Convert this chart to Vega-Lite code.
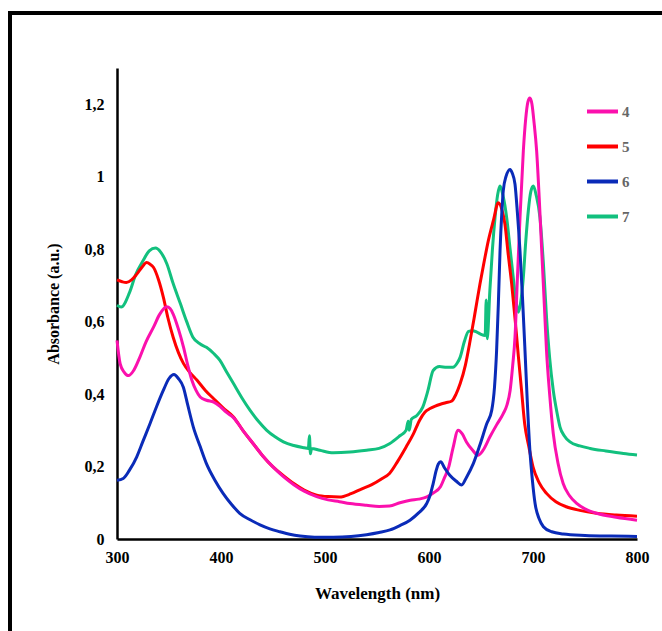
{
"$schema":"https://vega.github.io/schema/vega-lite/v6.json",
"width":660,"height":640,
"autosize":{"type":"none"},
"padding":{"left":10,"top":13,"right":0,"bottom":0},
"background":"white",
"config":{"view":{"stroke":"black","strokeWidth":4},"font":"Liberation Serif"},
"data":{"values":[
{"s":"7","w":300,"a":0.645},{"s":"7","w":304,"a":0.64},{"s":"7","w":312,"a":0.68},{"s":"7","w":318,"a":0.73},{"s":"7","w":325,"a":0.768},{"s":"7","w":331,"a":0.795},{"s":"7","w":337,"a":0.803},{"s":"7","w":342,"a":0.792},{"s":"7","w":348,"a":0.759},{"s":"7","w":354,"a":0.705},{"s":"7","w":361,"a":0.649},{"s":"7","w":367,"a":0.6},{"s":"7","w":373,"a":0.557},{"s":"7","w":380,"a":0.538},{"s":"7","w":386,"a":0.529},{"s":"7","w":393,"a":0.512},{"s":"7","w":399,"a":0.493},{"s":"7","w":405,"a":0.463},{"s":"7","w":412,"a":0.429},{"s":"7","w":420,"a":0.39},{"s":"7","w":428,"a":0.355},{"s":"7","w":436,"a":0.325},{"s":"7","w":444,"a":0.3},{"s":"7","w":452,"a":0.282},{"s":"7","w":460,"a":0.268},{"s":"7","w":470,"a":0.258},{"s":"7","w":480,"a":0.252},{"s":"7","w":484,"a":0.25},{"s":"7","w":485,"a":0.285},{"s":"7","w":486,"a":0.235},{"s":"7","w":487,"a":0.25},{"s":"7","w":495,"a":0.245},{"s":"7","w":508,"a":0.238},{"s":"7","w":524,"a":0.24},{"s":"7","w":540,"a":0.245},{"s":"7","w":552,"a":0.25},{"s":"7","w":562,"a":0.263},{"s":"7","w":572,"a":0.285},{"s":"7","w":578,"a":0.3},{"s":"7","w":580,"a":0.325},{"s":"7","w":581,"a":0.3},{"s":"7","w":583,"a":0.33},{"s":"7","w":588,"a":0.34},{"s":"7","w":594,"a":0.364},{"s":"7","w":599,"a":0.41},{"s":"7","w":604,"a":0.465},{"s":"7","w":610,"a":0.476},{"s":"7","w":617,"a":0.474},{"s":"7","w":623,"a":0.474},{"s":"7","w":627,"a":0.485},{"s":"7","w":630,"a":0.502},{"s":"7","w":634,"a":0.545},{"s":"7","w":638,"a":0.573},{"s":"7","w":642,"a":0.575},{"s":"7","w":646,"a":0.571},{"s":"7","w":650,"a":0.565},{"s":"7","w":654,"a":0.562},{"s":"7","w":655,"a":0.66},{"s":"7","w":656,"a":0.553},{"s":"7","w":658.5,"a":0.685},{"s":"7","w":661,"a":0.8},{"s":"7","w":663.5,"a":0.887},{"s":"7","w":666,"a":0.95},{"s":"7","w":668.3,"a":0.974},{"s":"7","w":671,"a":0.95},{"s":"7","w":674.7,"a":0.887},{"s":"7","w":678,"a":0.8},{"s":"7","w":681,"a":0.722},{"s":"7","w":684,"a":0.65},{"s":"7","w":686,"a":0.626},{"s":"7","w":688,"a":0.65},{"s":"7","w":690.7,"a":0.722},{"s":"7","w":693,"a":0.82},{"s":"7","w":695.5,"a":0.906},{"s":"7","w":698,"a":0.96},{"s":"7","w":700.3,"a":0.974},{"s":"7","w":703,"a":0.95},{"s":"7","w":706.7,"a":0.887},{"s":"7","w":710,"a":0.76},{"s":"7","w":713,"a":0.612},{"s":"7","w":716,"a":0.5},{"s":"7","w":719.5,"a":0.41},{"s":"7","w":723,"a":0.35},{"s":"7","w":726,"a":0.309},{"s":"7","w":730,"a":0.285},{"s":"7","w":735.6,"a":0.268},{"s":"7","w":745,"a":0.257},{"s":"7","w":755,"a":0.25},{"s":"7","w":770,"a":0.243},{"s":"7","w":787,"a":0.236},{"s":"7","w":800,"a":0.232},

{"s":"5","w":300,"a":0.715},{"s":"5","w":305,"a":0.71},{"s":"5","w":309,"a":0.708},{"s":"5","w":314,"a":0.715},{"s":"5","w":319,"a":0.731},{"s":"5","w":324,"a":0.75},{"s":"5","w":328.5,"a":0.763},{"s":"5","w":332,"a":0.758},{"s":"5","w":335,"a":0.75},{"s":"5","w":340,"a":0.715},{"s":"5","w":344.6,"a":0.667},{"s":"5","w":349,"a":0.61},{"s":"5","w":354,"a":0.557},{"s":"5","w":359,"a":0.515},{"s":"5","w":364,"a":0.484},{"s":"5","w":370,"a":0.46},{"s":"5","w":377,"a":0.438},{"s":"5","w":385,"a":0.41},{"s":"5","w":393,"a":0.387},{"s":"5","w":402,"a":0.362},{"s":"5","w":412,"a":0.337},{"s":"5","w":421,"a":0.3},{"s":"5","w":431,"a":0.263},{"s":"5","w":440,"a":0.23},{"s":"5","w":450,"a":0.199},{"s":"5","w":460,"a":0.175},{"s":"5","w":470,"a":0.153},{"s":"5","w":480,"a":0.135},{"s":"5","w":492,"a":0.121},{"s":"5","w":503,"a":0.117},{"s":"5","w":514,"a":0.116},{"s":"5","w":525,"a":0.125},{"s":"5","w":535,"a":0.138},{"s":"5","w":545,"a":0.15},{"s":"5","w":555,"a":0.167},{"s":"5","w":562,"a":0.181},{"s":"5","w":570,"a":0.215},{"s":"5","w":578,"a":0.254},{"s":"5","w":585,"a":0.29},{"s":"5","w":591,"a":0.328},{"s":"5","w":596,"a":0.35},{"s":"5","w":601,"a":0.36},{"s":"5","w":606,"a":0.367},{"s":"5","w":611,"a":0.372},{"s":"5","w":616,"a":0.376},{"s":"5","w":622,"a":0.381},{"s":"5","w":626,"a":0.4},{"s":"5","w":630,"a":0.429},{"s":"5","w":635,"a":0.48},{"s":"5","w":639,"a":0.539},{"s":"5","w":644,"a":0.62},{"s":"5","w":649,"a":0.704},{"s":"5","w":653,"a":0.765},{"s":"5","w":657,"a":0.823},{"s":"5","w":662,"a":0.88},{"s":"5","w":666.6,"a":0.928},{"s":"5","w":670,"a":0.91},{"s":"5","w":673,"a":0.869},{"s":"5","w":676,"a":0.79},{"s":"5","w":679.5,"a":0.704},{"s":"5","w":683,"a":0.6},{"s":"5","w":686,"a":0.502},{"s":"5","w":689,"a":0.41},{"s":"5","w":692,"a":0.318},{"s":"5","w":696,"a":0.255},{"s":"5","w":700,"a":0.199},{"s":"5","w":706,"a":0.155},{"s":"5","w":713,"a":0.126},{"s":"5","w":722,"a":0.103},{"s":"5","w":732,"a":0.089},{"s":"5","w":745,"a":0.079},{"s":"5","w":761,"a":0.071},{"s":"5","w":780,"a":0.066},{"s":"5","w":800,"a":0.063},

{"s":"4","w":300,"a":0.548},{"s":"4","w":303,"a":0.484},{"s":"4","w":307,"a":0.46},{"s":"4","w":311,"a":0.451},{"s":"4","w":316,"a":0.465},{"s":"4","w":322,"a":0.502},{"s":"4","w":328,"a":0.545},{"s":"4","w":335,"a":0.584},{"s":"4","w":341,"a":0.62},{"s":"4","w":347.8,"a":0.641},{"s":"4","w":351,"a":0.636},{"s":"4","w":354,"a":0.621},{"s":"4","w":359,"a":0.58},{"s":"4","w":364,"a":0.529},{"s":"4","w":368,"a":0.48},{"s":"4","w":372,"a":0.438},{"s":"4","w":376,"a":0.41},{"s":"4","w":380,"a":0.392},{"s":"4","w":386,"a":0.383},{"s":"4","w":393,"a":0.378},{"s":"4","w":399,"a":0.366},{"s":"4","w":405,"a":0.35},{"s":"4","w":412,"a":0.335},{"s":"4","w":421,"a":0.3},{"s":"4","w":431,"a":0.263},{"s":"4","w":440,"a":0.23},{"s":"4","w":450,"a":0.199},{"s":"4","w":460,"a":0.172},{"s":"4","w":470,"a":0.15},{"s":"4","w":480,"a":0.132},{"s":"4","w":492,"a":0.117},{"s":"4","w":503,"a":0.108},{"s":"4","w":514,"a":0.103},{"s":"4","w":524,"a":0.098},{"s":"4","w":540,"a":0.093},{"s":"4","w":552,"a":0.09},{"s":"4","w":562,"a":0.091},{"s":"4","w":572,"a":0.1},{"s":"4","w":582,"a":0.107},{"s":"4","w":590,"a":0.11},{"s":"4","w":598,"a":0.116},{"s":"4","w":604,"a":0.127},{"s":"4","w":611,"a":0.144},{"s":"4","w":615,"a":0.17},{"s":"4","w":619,"a":0.199},{"s":"4","w":623,"a":0.25},{"s":"4","w":628,"a":0.3},{"s":"4","w":632,"a":0.29},{"s":"4","w":636,"a":0.268},{"s":"4","w":642,"a":0.245},{"s":"4","w":647,"a":0.231},{"s":"4","w":652,"a":0.245},{"s":"4","w":658.6,"a":0.282},{"s":"4","w":665,"a":0.315},{"s":"4","w":671.4,"a":0.346},{"s":"4","w":675,"a":0.37},{"s":"4","w":678,"a":0.41},{"s":"4","w":680.5,"a":0.48},{"s":"4","w":682.7,"a":0.557},{"s":"4","w":685,"a":0.72},{"s":"4","w":687.5,"a":0.887},{"s":"4","w":690.7,"a":1.071},{"s":"4","w":693,"a":1.16},{"s":"4","w":695,"a":1.205},{"s":"4","w":697,"a":1.217},{"s":"4","w":699,"a":1.2},{"s":"4","w":701,"a":1.15},{"s":"4","w":703.5,"a":1.071},{"s":"4","w":706,"a":0.94},{"s":"4","w":708.4,"a":0.795},{"s":"4","w":711,"a":0.64},{"s":"4","w":713,"a":0.52},{"s":"4","w":716,"a":0.4},{"s":"4","w":719.5,"a":0.291},{"s":"4","w":724,"a":0.21},{"s":"4","w":729,"a":0.153},{"s":"4","w":735,"a":0.12},{"s":"4","w":742,"a":0.098},{"s":"4","w":750,"a":0.083},{"s":"4","w":761,"a":0.071},{"s":"4","w":780,"a":0.06},{"s":"4","w":800,"a":0.052},

{"s":"6","w":300,"a":0.162},{"s":"6","w":306,"a":0.167},{"s":"6","w":312,"a":0.19},{"s":"6","w":319,"a":0.227},{"s":"6","w":325,"a":0.27},{"s":"6","w":331.7,"a":0.318},{"s":"6","w":338,"a":0.365},{"s":"6","w":344.5,"a":0.41},{"s":"6","w":350,"a":0.443},{"s":"6","w":354.8,"a":0.454},{"s":"6","w":359,"a":0.443},{"s":"6","w":363.8,"a":0.419},{"s":"6","w":368,"a":0.37},{"s":"6","w":373.4,"a":0.309},{"s":"6","w":380,"a":0.255},{"s":"6","w":386,"a":0.208},{"s":"6","w":394,"a":0.163},{"s":"6","w":402,"a":0.126},{"s":"6","w":410,"a":0.096},{"s":"6","w":418,"a":0.071},{"s":"6","w":428,"a":0.053},{"s":"6","w":437.5,"a":0.039},{"s":"6","w":447,"a":0.028},{"s":"6","w":456.7,"a":0.02},{"s":"6","w":466,"a":0.013},{"s":"6","w":476,"a":0.008},{"s":"6","w":490,"a":0.005},{"s":"6","w":508,"a":0.005},{"s":"6","w":525,"a":0.007},{"s":"6","w":540,"a":0.012},{"s":"6","w":552,"a":0.018},{"s":"6","w":562.5,"a":0.025},{"s":"6","w":572,"a":0.037},{"s":"6","w":581.7,"a":0.052},{"s":"6","w":590,"a":0.072},{"s":"6","w":597.8,"a":0.098},{"s":"6","w":601,"a":0.12},{"s":"6","w":604,"a":0.153},{"s":"6","w":607,"a":0.19},{"s":"6","w":609,"a":0.207},{"s":"6","w":611.2,"a":0.213},{"s":"6","w":615,"a":0.196},{"s":"6","w":620,"a":0.176},{"s":"6","w":626,"a":0.16},{"s":"6","w":631.4,"a":0.149},{"s":"6","w":636,"a":0.17},{"s":"6","w":642.6,"a":0.208},{"s":"6","w":649,"a":0.26},{"s":"6","w":655.5,"a":0.318},{"s":"6","w":660.3,"a":0.355},{"s":"6","w":663,"a":0.42},{"s":"6","w":665,"a":0.52},{"s":"6","w":666.7,"a":0.65},{"s":"6","w":668.3,"a":0.795},{"s":"6","w":670,"a":0.9},{"s":"6","w":671.4,"a":0.961},{"s":"6","w":674,"a":1.0},{"s":"6","w":678,"a":1.02},{"s":"6","w":680,"a":1.01},{"s":"6","w":682.7,"a":0.979},{"s":"6","w":685,"a":0.9},{"s":"6","w":687.5,"a":0.795},{"s":"6","w":690,"a":0.66},{"s":"6","w":692.3,"a":0.52},{"s":"6","w":694.5,"a":0.38},{"s":"6","w":697,"a":0.245},{"s":"6","w":699.5,"a":0.16},{"s":"6","w":702,"a":0.098},{"s":"6","w":706,"a":0.055},{"s":"6","w":710,"a":0.034},{"s":"6","w":718,"a":0.02},{"s":"6","w":729,"a":0.014},{"s":"6","w":750,"a":0.01},{"s":"6","w":775,"a":0.008},{"s":"6","w":800,"a":0.007}
]},
"mark":{"type":"line","strokeWidth":3,"interpolate":"monotone"},
"encoding":{
"x":{"field":"w","type":"quantitative","scale":{"domain":[300,800],"range":[107,627],"nice":false,"zero":false},
"axis":{"orient":"bottom","offset":-114,"values":[300,400,500,600,700,800],"labelFlush":false,"labelOverlap":false,"grid":false,"ticks":false,"domainColor":"black","domainWidth":2.5,"labelFont":"Liberation Serif","labelFontWeight":"bold","labelFontSize":16,"labelColor":"black","labelPadding":10,"title":"Wavelength (nm)","titleFont":"Liberation Serif","titleFontWeight":"bold","titleFontSize":17,"titleColor":"black","titlePadding":20}},
"y":{"field":"a","type":"quantitative","scale":{"domain":[0,1.3],"range":[526,55],"nice":false},
"axis":{"orient":"left","offset":-107,"values":[0,0.2,0.4,0.6,0.8,1,1.2],"labelFlush":false,"grid":false,"ticks":false,"domainColor":"black","domainWidth":2.5,"labelFont":"Liberation Serif","labelFontWeight":"bold","labelFontSize":16,"labelColor":"black","labelPadding":13,"labelExpr":"replace(format(datum.value, '.1~f'), '.', ',')","title":"Absorbance (a.u.)","titleFont":"Liberation Serif","titleFontWeight":"bold","titleFontSize":16,"titleColor":"black","titlePadding":23}},
"color":{"field":"s","type":"nominal","scale":{"domain":["4","5","6","7"],"range":["#fb10ad","#ff0000","#0a2bb8","#12c07e"]},
"legend":{"title":null,"orient":"none","legendX":575,"legendY":81,"padding":0,"symbolType":"stroke","symbolSize":961,"symbolStrokeWidth":4,"labelFont":"Liberation Serif","labelFontWeight":"bold","labelFontSize":15,"labelColor":"#666666","labelOffset":2,"rowPadding":9}}
}
}
